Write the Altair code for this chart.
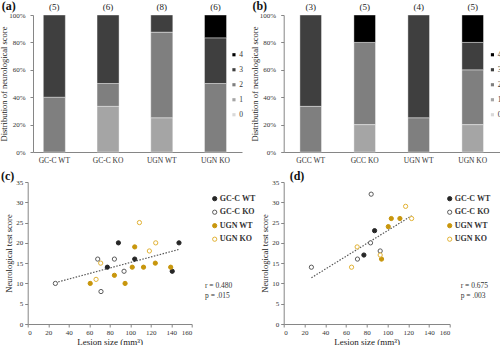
import altair as alt
import pandas as pd

FONT = "Liberation Serif"

# ---------------- data ----------------
score_levels = ["4", "3", "2", "1", "0"]
score_colors = ["#000000", "#3f3f3f", "#7f7f7f", "#a5a5a5", "#d9d9d9"]

a_groups = ["GC-C WT", "GC-C KO", "UGN WT", "UGN KO"]
a_n = [5, 6, 8, 6]
a_s0 = [0, 0, 0, 0]
a_s1 = [0, 2, 2, 0]
a_s2 = [2, 1, 5, 3]
a_s3 = [3, 3, 1, 2]
a_s4 = [0, 0, 0, 1]

b_groups = ["GCC WT", "GCC KO", "UGN WT", "UGN KO"]
b_n = [3, 5, 4, 5]
b_s0 = [0, 0, 0, 0]
b_s1 = [0, 1, 0, 1]
b_s2 = [1, 3, 1, 2]
b_s3 = [2, 0, 3, 1]
b_s4 = [0, 1, 0, 1]

scatter_groups = ["GC-C WT", "GC-C KO", "UGN WT", "UGN KO"]
scatter_fill = ["#262626", "#ffffff", "#c8960c", "#ffffff"]
scatter_stroke = ["#262626", "#5a5a5a", "#c8960c", "#e2b234"]

c_gcc_wt_x = [88.5, 77.7, 104.4, 147.6, 141.0]
c_gcc_wt_y = [20, 14, 16, 20, 13]
c_gcc_ko_x = [27.0, 68.3, 84.6, 71.5, 94.0]
c_gcc_ko_y = [10, 16, 16, 8, 13]
c_ugn_wt_x = [61.0, 84.6, 95.0, 102.0, 104.4, 113.0, 124.5, 139.5]
c_ugn_wt_y = [10, 12, 10, 14, 19, 14, 15, 14]
c_ugn_ko_x = [71.2, 66.7, 109.0, 118.7, 124.9]
c_ugn_ko_y = [15, 11, 25, 18, 20]
c_stats = "r = 0.480\np = .015"

d_gcc_wt_x = [87.6, 77.3]
d_gcc_wt_y = [23, 17]
d_gcc_ko_x = [26.7, 84.3, 83.7, 71.1, 93.0]
d_gcc_ko_y = [14, 32, 20, 16, 18]
d_ugn_wt_x = [103.7, 112.0, 100.8, 94.3]
d_ugn_wt_y = [26, 26, 24, 16]
d_ugn_ko_x = [65.4, 70.8, 93.0, 117.5, 123.3]
d_ugn_ko_y = [14, 19, 17, 29, 26]
d_stats = "r = 0.675\np = .003"

AX = dict(domainColor="#868686", tickColor="#868686", labelFont=FONT,
          labelColor="#333333", titleFont=FONT, titleColor="#222222",
          titleFontWeight="normal")


def bar_panel(groups, n, s_lists, tag, tag_x, width, xrange, p_in, p_out, align,
              y_offset, legend_x):
    rows = []
    for i, g in enumerate(groups):
        for sc, lst in enumerate(s_lists):
            if lst[i] > 0:
                rows.append({"group": g, "score": str(sc), "rank": sc, "count": lst[i]})
    df = pd.DataFrame(rows)
    sk = dict(paddingInner=p_in, paddingOuter=p_out, align=align)
    if xrange is not None:
        sk["range"] = xrange
    X = alt.X("group:N", sort=groups, scale=alt.Scale(**sk),
              axis=alt.Axis(title=None, labelAngle=0, ticks=False, labelFontSize=7.5,
                            labelPadding=4, **AX))
    yax = dict(values=[0, 0.2, 0.4, 0.6, 0.8, 1.0], format=".0%", grid=False,
               title="Distribution of neurological score", titleFontSize=8.5,
               labelFontSize=7, tickSize=3, labelPadding=5, titlePadding=0, **AX)
    if y_offset:
        yax["offset"] = y_offset
    bars = alt.Chart(df).mark_bar(stroke="white", strokeWidth=0.4).encode(
        x=X,
        y=alt.Y("count:Q", stack="normalize",
                scale=alt.Scale(domain=[0, 1], nice=False), axis=alt.Axis(**yax)),
        color=alt.Color("score:N",
                        scale=alt.Scale(domain=score_levels, range=score_colors),
                        legend=alt.Legend(orient="none", legendX=legend_x, legendY=36,
                                          title=None, symbolType="square", symbolSize=10,
                                          symbolStrokeWidth=0, labelFont=FONT,
                                          labelFontSize=7.5, labelColor="#333333",
                                          rowPadding=6, labelOffset=1.5)),
        order=alt.Order("rank:Q", sort="ascending"),
    )
    ndf = pd.DataFrame({"group": groups, "label": [f"({v})" for v in n]})
    counts = alt.Chart(ndf).mark_text(font=FONT, fontSize=9, baseline="alphabetic",
                                      color="#222222").encode(
        x=X, y=alt.value(-5.5), text="label:N")
    tagc = alt.Chart(pd.DataFrame({"t": [tag]})).mark_text(
        font=FONT, fontSize=12, fontWeight="bold", align="left", baseline="alphabetic",
        color="#111111").encode(x=alt.value(tag_x), y=alt.value(-5), text="t:N")
    return alt.layer(bars, counts, tagc).properties(width=width, height=137)


def scatter_panel(xs_list, ys_list, stats, tag, tag_x, width, legend_x, text_x):
    rows = []
    for g, xs, ys in zip(scatter_groups, xs_list, ys_list):
        for xv, yv in zip(xs, ys):
            rows.append({"group": g, "lesion": xv, "score": yv})
    df = pd.DataFrame(rows)
    X = alt.X("lesion:Q", scale=alt.Scale(domain=[0, 160], nice=False),
              axis=alt.Axis(values=list(range(0, 161, 20)), title="Lesion size (mm³)",
                            grid=False, labelFontSize=7, titleFontSize=9, tickSize=3,
                            labelPadding=1, titlePadding=2, **AX))
    Y = alt.Y("score:Q", scale=alt.Scale(domain=[0, 35], nice=False),
              axis=alt.Axis(values=list(range(0, 36, 5)), title="Neurological test score",
                            grid=False, labelFontSize=7, titleFontSize=8.5, tickSize=3,
                            labelPadding=2, titlePadding=2, **AX))
    leg = alt.Legend(orient="none", legendX=legend_x, legendY=12.7, title=None,
                     symbolType="circle", symbolSize=18, symbolStrokeWidth=1,
                     labelFont=FONT, labelFontSize=8, labelFontWeight="bold",
                     labelColor="#333333", rowPadding=3.5, labelOffset=1)
    line = alt.Chart(df).transform_regression("lesion", "score").mark_line(
        strokeDash=[1.5, 1.5], color="#595959", strokeWidth=1.2).encode(x=X, y=Y)
    pts = alt.Chart(df).mark_point(shape="circle", size=18, opacity=1,
                                   strokeWidth=1).encode(
        x=X, y=Y,
        fill=alt.Fill("group:N", scale=alt.Scale(domain=scatter_groups, range=scatter_fill),
                      legend=leg),
        stroke=alt.Stroke("group:N",
                          scale=alt.Scale(domain=scatter_groups, range=scatter_stroke),
                          legend=leg),
    )
    txt = alt.Chart(pd.DataFrame({"t": [stats]})).mark_text(
        font=FONT, fontSize=7.5, align="left", baseline="alphabetic", lineBreak="\n",
        lineHeight=10, color="#333333").encode(
        x=alt.value(text_x), y=alt.value(105.5), text="t:N")
    tagc = alt.Chart(pd.DataFrame({"t": [tag]})).mark_text(
        font=FONT, fontSize=12, fontWeight="bold", align="left", baseline="alphabetic",
        color="#111111").encode(x=alt.value(tag_x), y=alt.value(-2.3), text="t:N")
    return alt.layer(line, pts, txt, tagc).properties(width=width, height=142)


pa = bar_panel(a_groups, a_n, [a_s0, a_s1, a_s2, a_s3, a_s4], "(a)", -26, 214.3,
               [5.3, 214.3], 0.59, 0.24, 0.4, -5.3, 202.5)
pb = bar_panel(b_groups, b_n, [b_s0, b_s1, b_s2, b_s3, b_s4], "(b)", -31.3, 216,
               None, 0.6, 0.3, 0.5, 0, 205)
pc = scatter_panel([c_gcc_wt_x, c_gcc_ko_x, c_ugn_wt_x, c_ugn_ko_x],
                   [c_gcc_wt_y, c_gcc_ko_y, c_ugn_wt_y, c_ugn_ko_y],
                   c_stats, "(c)", -26.7, 164, 183, 177.3)
pd_ = scatter_panel([d_gcc_wt_x, d_gcc_ko_x, d_ugn_wt_x, d_ugn_ko_x],
                    [d_gcc_wt_y, d_gcc_ko_y, d_ugn_wt_y, d_ugn_ko_y],
                    d_stats, "(d)", 6, 166, 162, 177)

chart = alt.concat(
    pa, pb, pc, pd_, columns=2, spacing=alt.RowColnumber(row=30, column=41), bounds="flush"
).resolve_scale(
    x="independent", y="independent", color="independent", fill="independent",
    stroke="independent"
).resolve_legend(
    color="independent", fill="independent", stroke="independent"
).properties(
    autosize=alt.AutoSizeParams(type="none"),
    padding={"left": 27.7, "top": 15, "right": 472.3, "bottom": 330},
    background="white",
).configure_view(stroke=None)

chart.save("out.html", embed_options={"renderer": "svg", "actions": False})
